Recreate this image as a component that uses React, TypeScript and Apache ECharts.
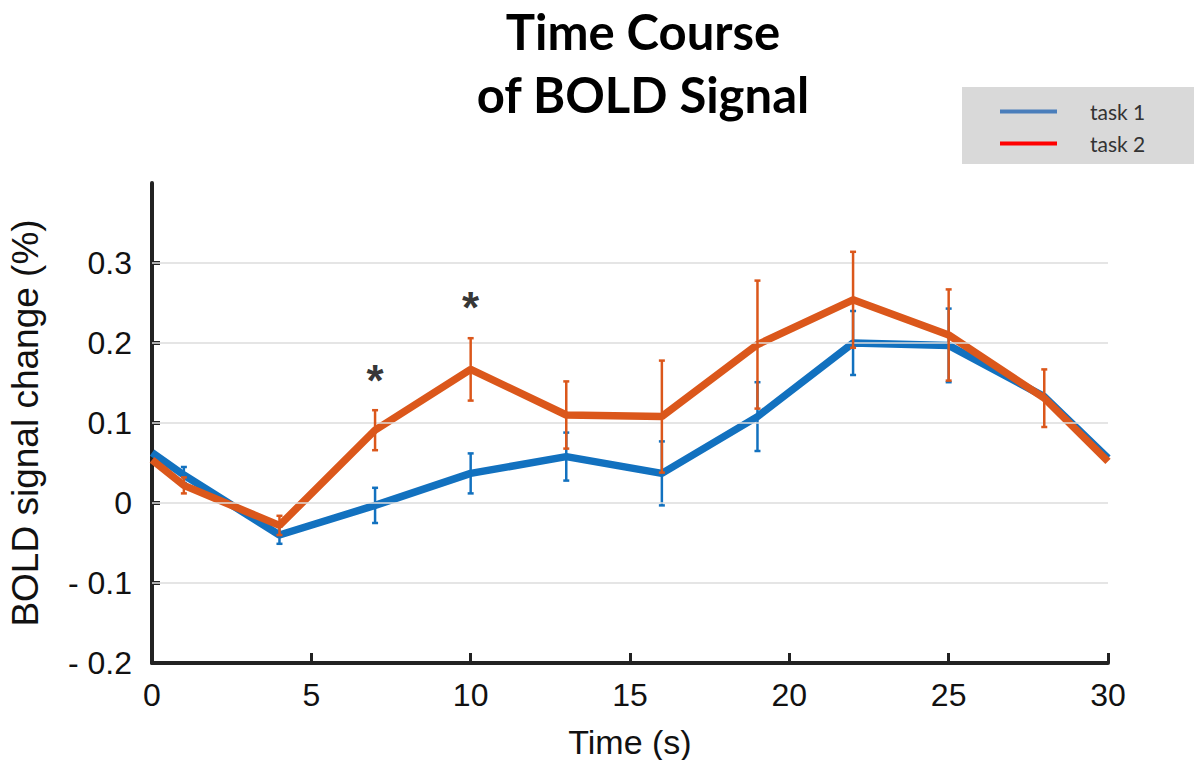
import React, { useEffect, useRef } from "react";
import * as echarts from "echarts";

const timePoints = [0, 1, 4, 7, 10, 13, 16, 19, 22, 25, 28, 30];
const task1Mean = [0.063, 0.035, -0.04, -0.003, 0.037, 0.058, 0.037, 0.108, 0.2, 0.197, 0.133, 0.056];
const task1Err = [0, 0.01, 0.011, 0.022, 0.025, 0.03, 0.04, 0.043, 0.04, 0.046, 0, 0];
const task2Mean = [0.054, 0.022, -0.028, 0.091, 0.167, 0.11, 0.108, 0.198, 0.254, 0.21, 0.131, 0.052];
const task2Err = [0, 0.01, 0.012, 0.025, 0.039, 0.042, 0.07, 0.08, 0.06, 0.057, 0.036, 0];
const sigTimes = [7, 10];
const sigLevels = [0.153, 0.244];
const yTicks = [-0.2, -0.1, 0, 0.1, 0.2, 0.3];
const gridValues = [-0.1, 0, 0.1, 0.2, 0.3];
const seriesNames = ["task 1", "task 2"];

const BLUE = "#1271bf";
const ORANGE = "#db571b";

function errorSeries(name: string, mean: number[], err: number[], color: string, z: number) {
  return {
    type: "custom",
    name: name + " err",
    z,
    silent: true,
    data: timePoints.map((t, i) => [t, mean[i], err[i]]),
    renderItem: (params: any, api: any) => {
      const x = api.value(0);
      const y = api.value(1);
      const e = api.value(2);
      if (!e) return null;
      const top = api.coord([x, y + e]);
      const bot = api.coord([x, y - e]);
      const hw = 3;
      const st = { stroke: color, lineWidth: 2.5 };
      return {
        type: "group",
        children: [
          { type: "line", shape: { x1: top[0], y1: top[1], x2: bot[0], y2: bot[1] }, style: st },
          { type: "line", shape: { x1: top[0] - hw, y1: top[1], x2: top[0] + hw, y2: top[1] }, style: st },
          { type: "line", shape: { x1: bot[0] - hw, y1: bot[1], x2: bot[0] + hw, y2: bot[1] }, style: st },
        ],
      };
    },
  };
}

export default function App() {
  const ref = useRef<HTMLDivElement>(null);
  useEffect(() => {
    if (!ref.current) return;
    const chart = echarts.init(ref.current, null, { renderer: "svg" });
    const fmt = (v: number) => {
      const r = Math.round(v * 10) / 10;
      if (r < 0) return "- " + Math.abs(r);
      return String(r);
    };
    chart.setOption({
      animation: false,
      backgroundColor: "#ffffff",
      title: {
        text: "Time Course\nof BOLD Signal",
        left: 638,
        textAlign: "center",
        top: -6,
        textStyle: {
          fontFamily: "Lato",
          fontWeight: "bold",
          fontSize: 49,
          lineHeight: 63,
          color: "#000",
        },
      },
      legend: {
        left: 962,
        top: 87,
        orient: "vertical",
        selectedMode: false,
        backgroundColor: "#d9d9d9",
        padding: [14, 60, 10, 38],
        itemGap: 11,
        itemWidth: 57,
        itemHeight: 4,
        icon: "rect",
        textStyle: { fontFamily: "Lato", fontSize: 21, color: "#333", padding: [0, 0, 0, 28], lineHeight: 20 },
        data: [
          { name: seriesNames[0], itemStyle: { color: "#4a7ebb" } },
          { name: seriesNames[1], itemStyle: { color: "#ff0000" } },
        ],
      },
      grid: { left: 152, right: 86, top: 183, bottom: 97, outerBoundsMode: "none", containLabel: false },
      xAxis: {
        type: "value",
        min: 0,
        max: 30,
        interval: 5,
        name: "Time (s)",
        nameLocation: "middle",
        nameGap: 62,
        nameTextStyle: { fontFamily: "Liberation Sans", fontSize: 34, color: "#111" },
        axisLine: { onZero: false, lineStyle: { color: "#222", width: 4 } },
        axisTick: { inside: true, length: 10, lineStyle: { color: "#222", width: 3 } },
        axisLabel: { fontFamily: "Liberation Sans", fontSize: 32, color: "#111", margin: 16 },
        splitLine: { show: false },
      },
      yAxis: {
        type: "value",
        min: -0.2,
        max: 0.4,
        interval: 0.1,
        name: "BOLD signal change (%)",
        nameLocation: "middle",
        nameGap: 108,
        nameTextStyle: { fontFamily: "Liberation Sans", fontSize: 37, color: "#111" },
        axisLine: { show: true, lineStyle: { color: "#222", width: 4 } },
        axisTick: { show: true, inside: true, length: 8, customValues: yTicks, lineStyle: { color: "#222", width: 4 } },
        axisLabel: { fontFamily: "Liberation Sans", fontSize: 32, color: "#111", margin: 20, customValues: yTicks, formatter: fmt },
        splitLine: { show: false },
      },
      series: [
        {
          type: "line",
          name: "grid",
          data: [],
          z: 0,
          silent: true,
          markLine: {
            silent: true,
            symbol: "none",
            label: { show: false },
            lineStyle: { color: "#dcdcdc", width: 1.5, type: "solid" },
            data: gridValues.map((v) => ({ yAxis: v })),
          },
        },
        {
          type: "line",
          name: seriesNames[0],
          z: 2,
          data: timePoints.map((t, i) => [t, task1Mean[i]]),
          showSymbol: false,
          lineStyle: { color: BLUE, width: 7.5 },
          itemStyle: { color: BLUE },
        },
        errorSeries(seriesNames[0], task1Mean, task1Err, BLUE, 3),
        {
          type: "line",
          name: seriesNames[1],
          z: 4,
          data: timePoints.map((t, i) => [t, task2Mean[i]]),
          showSymbol: false,
          lineStyle: { color: ORANGE, width: 7.5 },
          itemStyle: { color: ORANGE },
        },
        errorSeries(seriesNames[1], task2Mean, task2Err, ORANGE, 5),
        {
          type: "scatter",
          name: "significance",
          z: 6,
          silent: true,
          symbolSize: 1,
          itemStyle: { color: "rgba(0,0,0,0)" },
          data: sigTimes.map((t, i) => [t, sigLevels[i]]),
          label: {
            show: true,
            position: "inside",
            formatter: "*",
            fontFamily: "Liberation Sans",
            fontWeight: "bold",
            fontSize: 44,
            color: "#000",
          },
        },
      ],
    });
    return () => chart.dispose();
  }, []);
  return <div ref={ref} style={{ width: 1194, height: 760, position: "absolute", left: 0, top: 0 }} />;
}
